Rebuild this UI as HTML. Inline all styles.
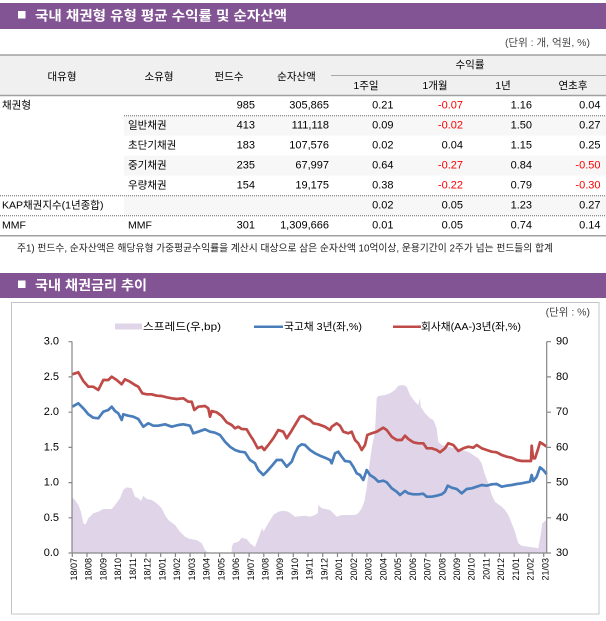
<!DOCTYPE html>
<html><head><meta charset="utf-8"><style>html,body{margin:0;padding:0;background:#fff;}svg{display:block;}</style></head>
<body>
<svg width="606" height="621" xmlns="http://www.w3.org/2000/svg" font-family="'Liberation Sans','Noto Sans CJK KR',sans-serif">
<rect x="0" y="0" width="606" height="621" fill="#fff"/>
<!-- title 1 -->
<rect x="0" y="3" width="606" height="26" fill="#835494"/>
<rect x="18" y="11" width="7.5" height="7.5" fill="#fff"/>
<text x="35" y="16" font-size="13.5" font-weight="bold" fill="#fff" dominant-baseline="central" textLength="252" lengthAdjust="spacingAndGlyphs">국내 채권형 유형 평균 수익률 및 순자산액</text>
<text x="590" y="43" font-size="10.5" fill="#444" text-anchor="end" dominant-baseline="central">(단위 : 개, 억원, %)</text>
<!-- table header -->
<rect x="0" y="55" width="606" height="40.5" fill="#f0f0f0"/>
<line x1="0" y1="55" x2="606" y2="55" stroke="#a0a0a0" stroke-width="1.5"/>
<line x1="0" y1="95.5" x2="606" y2="95.5" stroke="#a0a0a0" stroke-width="1.5"/>
<line x1="331" y1="75.5" x2="606" y2="75.5" stroke="#a8a8a8" stroke-width="1"/>
<g font-size="10.5" fill="#000" text-anchor="middle" dominant-baseline="central">
<text x="62" y="77">대유형</text>
<text x="159" y="77">소유형</text>
<text x="229" y="77">펀드수</text>
<text x="296.5" y="77">순자산액</text>
<text x="470" y="65">수익률</text>
<text x="366" y="86">1주일</text>
<text x="435" y="86">1개월</text>
<text x="503" y="86">1년</text>
<text x="573" y="86">연초후</text>
</g>
<!-- row backgrounds -->
<rect x="124" y="115.7" width="482" height="20" fill="#f7f7f7"/>
<rect x="124" y="155.7" width="482" height="20" fill="#f7f7f7"/>
<rect x="124" y="195.7" width="482" height="20" fill="#f7f7f7"/>
<g stroke="#666" stroke-width="1" stroke-dasharray="1,1">
<line x1="124" y1="115.7" x2="606" y2="115.7"/>
<line x1="0" y1="195.7" x2="606" y2="195.7"/>
<line x1="0" y1="215.7" x2="606" y2="215.7"/>
</g>
<line x1="0" y1="235.7" x2="606" y2="235.7" stroke="#a0a0a0" stroke-width="1.5"/>
<g font-size="10.5" fill="#000" dominant-baseline="central">
<text x="2" y="105.7">채권형</text>
<text x="128" y="125.7">일반채권</text>
<text x="128" y="145.7">초단기채권</text>
<text x="128" y="165.7">중기채권</text>
<text x="128" y="185.7">우량채권</text>
<text x="2" y="205.7">KAP채권지수(1년종합)</text>
<text x="2" y="225.7">MMF</text>
<text x="128" y="225.7">MMF</text>
</g>
<g font-size="11" fill="#000" text-anchor="end" dominant-baseline="central">
<text x="255" y="105.7">985</text><text x="329" y="105.7">305,865</text><text x="393.5" y="105.7">0.21</text><text x="463" y="105.7" fill="#f00">-0.07</text><text x="532" y="105.7">1.16</text><text x="600.5" y="105.7">0.04</text>
<text x="255" y="125.7">413</text><text x="329" y="125.7">111,118</text><text x="393.5" y="125.7">0.09</text><text x="463" y="125.7" fill="#f00">-0.02</text><text x="532" y="125.7">1.50</text><text x="600.5" y="125.7">0.27</text>
<text x="255" y="145.7">183</text><text x="329" y="145.7">107,576</text><text x="393.5" y="145.7">0.02</text><text x="463" y="145.7">0.04</text><text x="532" y="145.7">1.15</text><text x="600.5" y="145.7">0.25</text>
<text x="255" y="165.7">235</text><text x="329" y="165.7">67,997</text><text x="393.5" y="165.7">0.64</text><text x="463" y="165.7" fill="#f00">-0.27</text><text x="532" y="165.7">0.84</text><text x="600.5" y="165.7" fill="#f00">-0.50</text>
<text x="255" y="185.7">154</text><text x="329" y="185.7">19,175</text><text x="393.5" y="185.7">0.38</text><text x="463" y="185.7" fill="#f00">-0.22</text><text x="532" y="185.7">0.79</text><text x="600.5" y="185.7" fill="#f00">-0.30</text>
<text x="393.5" y="205.7">0.02</text><text x="463" y="205.7">0.05</text><text x="532" y="205.7">1.23</text><text x="600.5" y="205.7">0.27</text>
<text x="255" y="225.7">301</text><text x="329" y="225.7">1,309,666</text><text x="393.5" y="225.7">0.01</text><text x="463" y="225.7">0.05</text><text x="532" y="225.7">0.74</text><text x="600.5" y="225.7">0.14</text>
</g>
<text x="17" y="249" font-size="10" fill="#222" dominant-baseline="central" textLength="536" lengthAdjust="spacingAndGlyphs">주1) 펀드수, 순자산액은 해당유형 가중평균수익률을 계산시 대상으로 삼은 순자산액 10억이상, 운용기간이 2주가 넘는 펀드들의 합계</text>
<!-- title 2 -->
<rect x="0" y="273" width="606" height="25" fill="#835494"/>
<rect x="18" y="280.5" width="7.5" height="7.5" fill="#fff"/>
<text x="35" y="285.5" font-size="13.5" font-weight="bold" fill="#fff" dominant-baseline="central" textLength="112" lengthAdjust="spacingAndGlyphs">국내 채권금리 추이</text>
<!-- chart frame -->
<rect x="11.5" y="302.5" width="587.5" height="311.5" fill="#fff" stroke="#c4c4c4" stroke-width="1"/>
<text x="590" y="312.5" font-size="10.5" fill="#444" text-anchor="end" dominant-baseline="central">(단위 : %)</text>
<!-- legend -->
<rect x="115" y="323.5" width="27" height="6" fill="#e0d4e8"/>
<text x="143" y="327" font-size="10.5" fill="#000" dominant-baseline="central" textLength="78" lengthAdjust="spacingAndGlyphs">스프레드(우,bp)</text>
<line x1="254" y1="326.7" x2="283" y2="326.7" stroke="#4a7ebb" stroke-width="2.5"/>
<text x="284" y="327" font-size="10.5" fill="#000" dominant-baseline="central" textLength="78" lengthAdjust="spacingAndGlyphs">국고채 3년(좌,%)</text>
<line x1="393" y1="326.7" x2="421" y2="326.7" stroke="#be4b48" stroke-width="2.5"/>
<text x="421" y="327" font-size="10.5" fill="#000" dominant-baseline="central" textLength="100" lengthAdjust="spacingAndGlyphs">회사채(AA-)3년(좌,%)</text>
<!-- spread area -->
<polygon fill="#e0d4e8" points="72.3,553 72.3,497.7 75,500 78.3,505 81,511.7 83.3,523.3 85.7,524.3 88.3,518.3 93.3,513.3 98.3,511.7 103.3,509 111.7,509 115,505 120,498.3 123.3,490 126.7,487.3 131.7,488.3 135,496.7 138.3,498.3 141,501 143.3,495.7 146.7,499 151.7,500 156.7,503.3 161.7,508.3 165,515 168.3,520 175,525 180,531.7 185,536.7 190,539 196.7,540 201.7,543.3 205,550 208.3,553 231.7,553 231.7,547.7 233.3,543.3 238.3,541.7 241.7,537.7 246.7,539 250,543.3 255,547 258.3,538.3 262.3,527.7 263.3,531.7 268.3,523.3 273.3,515 278.3,511.7 283.3,510.7 288.3,511.7 295,516.7 305,515.7 310,516.7 315,515 317.7,513.3 318.3,505 321.7,508.3 330,510 333.3,513.3 336.7,516.7 341.7,515 348.3,515 355,515 358.3,513.3 361.7,508.3 364.3,501.7 366.7,488.3 369,468.3 371.7,448.3 375,431.7 376.7,398.3 378.3,396 385,395 390,393.3 395,390 398.3,385.7 403.3,385 406.7,386.7 410,395 415,401.7 418.3,405 420,398.3 420.7,406.7 425,413.3 430,418.3 433.3,420 436.7,428.3 438.3,441.7 441.7,445 448.3,446.7 455,448.3 461.7,450 468.3,451.7 473.3,455 478.3,458.3 481.7,463.3 485,475 488.3,483.3 491.7,495 495,501.7 501.7,506.7 505,510 508.3,515 511.7,523.3 515,531.7 518.3,543.3 521.7,545.7 528.3,546.7 531.7,547.3 538.3,548.3 540,539 542.3,523.3 545,520.7 546.7,520 546.7,553"/>
<!-- series lines -->
<polyline fill="none" stroke="#be4b48" stroke-width="2.7" stroke-linejoin="round" points="72.3,374.3 78.3,372.3 83.3,381 88.3,386.7 93.3,386.7 98.3,390 103.3,380 108.3,380 111.7,376.7 116.7,380 121.7,384.3 125,379.3 130,381.7 135,385 138.3,386.7 142.3,393.3 146.7,394.3 151.7,394.3 156.7,395.7 161.7,396 166.7,397.3 171.7,398.3 176.7,399 183.3,398.3 188.3,401.7 191.7,401.7 194.3,410 198.3,406.7 205,406 208.3,408.3 210,416.7 211.7,411 216.7,412.3 221.7,416 226.7,422.3 231.7,425 235,428.3 238.3,426.7 241.7,429 246.7,429.3 250,435 253.3,440 257.7,448.3 261.7,446.7 264.3,450 268.3,445 273.3,438.3 278.3,430 283.3,431.7 286.7,438.3 290,433.3 295,425 300,416.7 303.3,416 306.7,418.3 310,420 313.3,423.3 318.3,424.3 325,426.7 330,430 331.7,426.7 336.7,423.3 340,425.7 343.3,431.7 348.3,433.3 351.7,431.7 355,440 358.3,443.3 361.7,450 365,445 367.3,435 371.7,433.3 376.7,431.7 383.3,427.7 386.7,430 391.7,436.7 396.7,440 401.7,440 405,435.7 408.3,439 413.3,442.3 418.3,443.3 423.3,443.3 426.7,448.3 431.7,448.3 436.7,450 440,452.3 445,448.3 448.3,443.3 453.3,445 458.3,451 463.3,448.3 468.3,446.7 473.3,447.7 476.7,445 481.7,448.3 486.7,450 491.7,451.7 496.7,452.3 501.7,455 506.7,456.7 511.7,457.7 516.7,460 521.7,461 526.7,461 531,461 531.7,445.7 533,458.3 535,458.3 538.3,448.3 540,442.3 543.3,444.3 546.7,446.7"/>
<polyline fill="none" stroke="#4a7ebb" stroke-width="2.7" stroke-linejoin="round" points="72.3,406.7 78.3,403.3 83.3,408.3 88.3,414.3 93.3,417.7 98.3,418.3 103.3,411.7 108.3,410 111.7,406.7 115,411 118.3,413.3 121.7,420 123.3,414.3 128.3,415.7 133.3,416.7 138.3,419 143.3,426.7 148.3,423.3 153.3,425.7 158.3,425.7 165,424.3 171.7,426.7 178.3,425 183.3,424.3 190,425.7 193.3,433.3 198.3,431.7 205,429.3 210,431.7 215,432.7 220,435 225,441.7 230,446.7 235,450 240,451.7 245,452.3 250,460 255,463.3 258.3,470 263.3,475 266.7,471.7 271.7,466 276.7,460 281.7,460 286.7,466.7 291.7,461.7 295,453.3 298.3,446.7 301.7,444.3 305,445 310,450 315,453.3 320,455.7 325,457.7 330,460 331.7,463.3 335,453.3 338.3,451.7 341.7,456.7 345,461 350,461.7 353.3,466.7 356.7,473.3 360,475 363.3,480 366.7,470 370,475 375,478.3 378.3,481.7 383.3,480.7 386.7,482.3 391.7,488.3 396.7,491.7 400,495 405,491 408.3,493.3 413.3,494.3 418.3,494.3 423.3,493.7 426.7,496.7 431.7,496.7 436.7,495.7 441.7,494.3 445,491.7 447.7,485.7 451.7,487.7 456.7,489 461.7,493.3 466.7,489 471.7,488.3 476.7,486.7 481.7,485 486.7,485.7 491.7,484.3 496.7,484 501.7,486.7 506.7,485.7 511.7,485 516.7,484 521.7,483.3 526.7,482.3 530,481.7 531.7,475 533.3,481 536.7,476.7 540,467.3 543.3,470 546.7,474.3"/>
<!-- axes -->
<g stroke="#868686" stroke-width="1.2" fill="none">
<line x1="72" y1="341.5" x2="72" y2="553.5"/>
<line x1="546.7" y1="341.5" x2="546.7" y2="553.5"/>
<line x1="72" y1="553" x2="547" y2="553"/>
<path d="M68.5 341.7H72M68.5 376.9H72M68.5 412.2H72M68.5 447.4H72M68.5 482.6H72M68.5 517.8H72M68.5 553H72"/>
<path d="M546.7 341.7H551M546.7 376.9H551M546.7 412.2H551M546.7 447.4H551M546.7 482.6H551M546.7 517.8H551M546.7 553H551"/>
<path d="M72.3 553v4M87 553v4M101.8 553v4M116.5 553v4M131.2 553v4M146 553v4M160.7 553v4M175.4 553v4M190.1 553v4M204.9 553v4M219.6 553v4M234.3 553v4M249.1 553v4M263.8 553v4M278.5 553v4M293.3 553v4M308 553v4M322.7 553v4M337.5 553v4M352.2 553v4M366.9 553v4M381.6 553v4M396.4 553v4M411.1 553v4M425.8 553v4M440.6 553v4M455.3 553v4M470 553v4M484.8 553v4M499.5 553v4M514.2 553v4M528.9 553v4M543.7 553v4"/>
</g>
<g font-size="11" fill="#000" text-anchor="end" dominant-baseline="central">
<text x="59" y="341.7">3.0</text><text x="59" y="376.9">2.5</text><text x="59" y="412.2">2.0</text><text x="59" y="447.4">1.5</text><text x="59" y="482.6">1.0</text><text x="59" y="517.8">0.5</text><text x="59" y="553">0.0</text>
</g>
<g font-size="11" fill="#000" dominant-baseline="central">
<text x="556" y="341.7">90</text><text x="556" y="376.9">80</text><text x="556" y="412.2">70</text><text x="556" y="447.4">60</text><text x="556" y="482.6">50</text><text x="556" y="517.8">40</text><text x="556" y="553">30</text>
</g>
<g font-size="9" fill="#000" text-anchor="end" dominant-baseline="central">
<text transform="translate(74,558) rotate(-90)">18/07</text>
<text transform="translate(88.7,558) rotate(-90)">18/08</text>
<text transform="translate(103.5,558) rotate(-90)">18/09</text>
<text transform="translate(118.2,558) rotate(-90)">18/10</text>
<text transform="translate(132.9,558) rotate(-90)">18/11</text>
<text transform="translate(147.7,558) rotate(-90)">18/12</text>
<text transform="translate(162.4,558) rotate(-90)">19/01</text>
<text transform="translate(177.1,558) rotate(-90)">19/02</text>
<text transform="translate(191.8,558) rotate(-90)">19/03</text>
<text transform="translate(206.6,558) rotate(-90)">19/04</text>
<text transform="translate(221.3,558) rotate(-90)">19/05</text>
<text transform="translate(236,558) rotate(-90)">19/06</text>
<text transform="translate(250.8,558) rotate(-90)">19/07</text>
<text transform="translate(265.5,558) rotate(-90)">19/08</text>
<text transform="translate(280.2,558) rotate(-90)">19/09</text>
<text transform="translate(295,558) rotate(-90)">19/10</text>
<text transform="translate(309.7,558) rotate(-90)">19/11</text>
<text transform="translate(324.4,558) rotate(-90)">19/12</text>
<text transform="translate(339.2,558) rotate(-90)">20/01</text>
<text transform="translate(353.9,558) rotate(-90)">20/02</text>
<text transform="translate(368.6,558) rotate(-90)">20/03</text>
<text transform="translate(383.3,558) rotate(-90)">20/04</text>
<text transform="translate(398.1,558) rotate(-90)">20/05</text>
<text transform="translate(412.8,558) rotate(-90)">20/06</text>
<text transform="translate(427.5,558) rotate(-90)">20/07</text>
<text transform="translate(442.3,558) rotate(-90)">20/08</text>
<text transform="translate(457,558) rotate(-90)">20/09</text>
<text transform="translate(471.7,558) rotate(-90)">20/10</text>
<text transform="translate(486.5,558) rotate(-90)">20/11</text>
<text transform="translate(501.2,558) rotate(-90)">20/12</text>
<text transform="translate(515.9,558) rotate(-90)">21/01</text>
<text transform="translate(530.6,558) rotate(-90)">21/02</text>
<text transform="translate(545.4,558) rotate(-90)">21/03</text>
</g>
</svg>
</body></html>
